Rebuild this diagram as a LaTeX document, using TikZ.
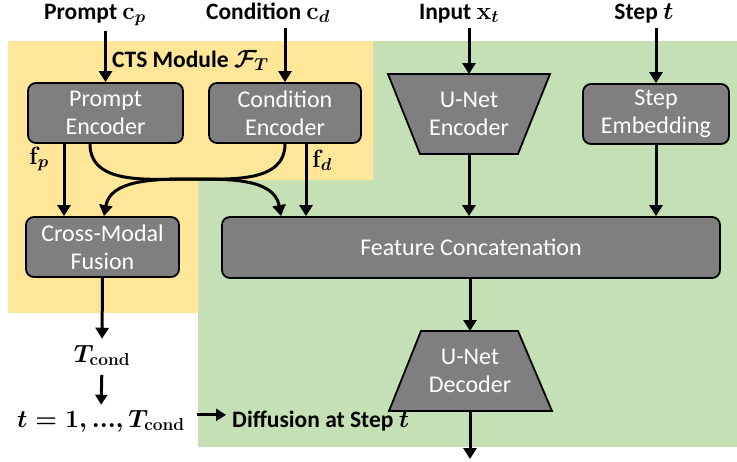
\documentclass[tikz,border=0pt]{standalone}
\usepackage[no-math]{fontspec}
\setmainfont{Carlito}
\usepackage{amsmath,bm}
\usetikzlibrary{arrows.meta}
\definecolor{yel}{HTML}{FFE699}
\definecolor{grn}{HTML}{C5E0B4}
\definecolor{boxg}{HTML}{7F7F7F}
\begin{document}
\begin{tikzpicture}[x=1pt,y=-1pt,
  blk/.style={draw=black, line width=1.8pt, fill=boxg, rounded corners=8pt, text=white, align=center, font=\fontsize{24}{28}\selectfont, inner sep=0pt},
  trap/.style={draw=black, line width=1.8pt, fill=boxg},
  traptext/.style={text=white, align=center, font=\fontsize{24}{28}\selectfont, inner sep=0pt},
  arr/.style={line width=3pt, -{Triangle[length=11pt,width=13pt]}},
  sarr/.style={line width=3pt, -{Triangle[length=10pt,width=12pt]}},
  lbl/.style={font=\fontsize{23.5}{26}\selectfont\bfseries\boldmath, inner sep=0pt, anchor=base},
  mlbl/.style={font=\fontsize{25}{28}\selectfont\bfseries\boldmath, inner sep=0pt, anchor=base},
]
\useasboundingbox (0,0) rectangle (737,461);
% regions
\fill[grn] (198,41) rectangle (737,447);
\fill[yel] (8,41) -- (373,41) -- (373,180) -- (198,180) -- (198,313) -- (8,313) -- cycle;
% boxes
\node[blk, minimum width=155pt, minimum height=60pt] (pe) at (105.5,113) {Prompt\\Encoder};
\node[blk, minimum width=152pt, minimum height=60pt] (ce) at (285,113) {Condition\\Encoder};
\node[blk, minimum width=146pt, minimum height=60pt] (se) at (656,114) {Step\\Embedding};
\node[blk, minimum width=153pt, minimum height=60pt] (fu) at (102.5,247) {Cross-Modal\\Fusion};
\node[blk, minimum width=498pt, minimum height=61pt] (fc) at (471,247.5) {Feature Concatenation};
% trapezoids
\draw[trap] (388,74) -- (550,74) -- (518,154) -- (420,154) -- cycle;
\node[traptext] (enc) at (469,114) {U-Net\\Encoder};
\coordinate (enctop) at (469,74);
\coordinate (encbot) at (469,154);
\draw[trap] (421,331) -- (518,331) -- (552,411) -- (389,411) -- cycle;
\node[traptext] (dec) at (470,371) {U-Net\\Decoder};
\coordinate (dectop) at (470,331);
\coordinate (decbot) at (470,411);
\coordinate (out) at (470,459);
% labels
\node[lbl] (tp) at (95,19) {Prompt {\fontsize{25}{28}\selectfont$\mathbf{c}_p$}};
\node[lbl] (tcd) at (268,19) {Condition {\fontsize{25}{28}\selectfont$\mathbf{c}_d$}};
\node[lbl] (tin) at (459,19) {Input {\fontsize{25}{28}\selectfont$\mathbf{x}_t$}};
\node[lbl] (tst) at (644,19) {Step {\fontsize{25}{28}\selectfont$t$}};
\node[lbl, anchor=base west] (cts) at (112,67) {CTS Module {\fontsize{25}{28}\selectfont$\mathcal{F}_T$}};
\node[mlbl, anchor=base west] (fp) at (29,164) {$\mathbf{f}_p$};
\node[mlbl, anchor=base west] (fd) at (312,167) {$\mathbf{f}_d$};
\node[mlbl] (tc) at (102,362) {$T_{\mathbf{cond}}$};
\node[mlbl] (tl) at (101,427) {$t=1,{\ldotp\!\ldotp\!\ldotp},T_{\mathbf{cond}}$};
\node[lbl, anchor=base west] (diff) at (232,427) {Diffusion at Step {\fontsize{25}{28}\selectfont$t$}};
% coordinates for column positions
\coordinate (xp) at (64,0);
\coordinate (xc1) at (90,0);
\coordinate (xc2) at (281,0);
\coordinate (xd) at (306,0);
\coordinate (xf) at (104,0);
\coordinate (cross) at (190,179);
% connectors
\draw[arr, shorten <=5pt] (tp.south -| pe.north) -- (pe.north);
\draw[arr, shorten <=5pt] (tcd.south -| ce.north) -- (ce.north);
\draw[arr, shorten <=5pt] (tin.south -| enctop) -- (enctop);
\draw[arr, shorten <=5pt] (tst.south -| se.north) -- (se.north);
\draw[arr] (pe.south -| xp) -- (fu.north -| xp);
\draw[arr] (ce.south -| xd) -- (fc.north -| xd);
\draw[arr] (pe.south -| xc1) to[out=-90,in=180] (cross) to[out=0,in=100] (fc.north -| xc2);
\draw[arr] (ce.south) to[out=-90,in=0] (cross) to[out=180,in=80] (fu.north -| xf);
\draw[arr] (encbot) -- (encbot |- fc.north);
\draw[arr] (se.south) -- (se.south |- fc.north);
\draw[arr, shorten >=6pt] (fu.south) -- (tc.north);
\draw[sarr, shorten <=9pt, shorten >=5pt] (tc.south) -- (tl.north);
\draw[sarr, shorten <=12pt, shorten >=6pt] ([yshift=6pt]tl.east) -- ([yshift=6pt]tl.east -| diff.west);
\draw[arr] (fc.south -| dectop) -- (dectop);
\draw[arr] (decbot) -- (out);
\end{tikzpicture}
\end{document}
